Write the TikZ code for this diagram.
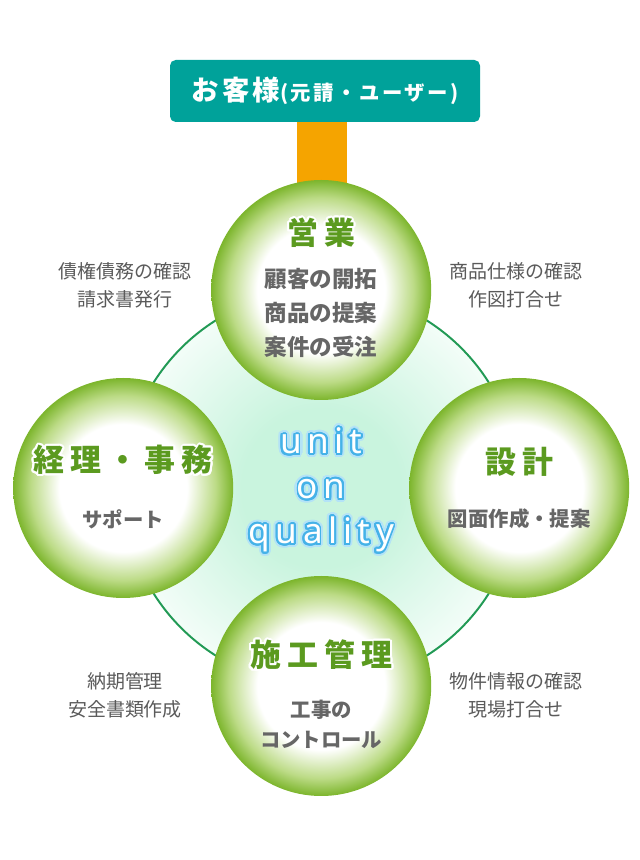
\documentclass[tikz,border=0pt]{standalone}
\usepackage{fontspec}
\usepackage{xcolor}
\usepackage[copies]{contour}
\usetikzlibrary{calc,positioning,backgrounds}
\newfontfamily\jpfont{Noto Sans CJK JP}
\newfontfamily\latinfont{Noto Sans}
\definecolor{teal}{HTML}{00A29A}
\definecolor{trunk}{HTML}{F5A400}
\definecolor{leaf}{HTML}{7CB52C}
\definecolor{leafmid}{HTML}{BCDB86}
\definecolor{leafdark}{HTML}{5B9A1F}
\definecolor{ink}{HTML}{666666}
\definecolor{muted}{HTML}{5A5A5A}
\definecolor{ringline}{HTML}{229A55}
\definecolor{mint}{HTML}{C9F4DE}
\definecolor{mintedge}{HTML}{F3FDF8}
\definecolor{glowblue}{HTML}{45B2E8}
\definecolor{glowsoft}{HTML}{B4E3F7}
% the path's bounding box maps to the central 50bp of a shading
\pgfdeclareradialshading{leafball}{\pgfpoint{0bp}{0bp}}{color(0bp)=(white); color(14.5bp)=(white); color(21bp)=(leafmid); color(25bp)=(leaf); color(50bp)=(leaf)}
\pgfdeclareradialshading{mintglow}{\pgfpoint{0bp}{0bp}}{color(0bp)=(mint); color(10bp)=(mint); color(25bp)=(mintedge); color(50bp)=(mintedge)}
\contournumber{24}
\newcommand{\halo}[1]{{\contourlength{1.4pt}\contour{white}{#1}}}
\newcommand{\mottoglow}[1]{\rlap{\contourlength{2.8pt}\color{glowsoft}\contour{glowsoft}{#1}}{\contourlength{1.3pt}\contour{glowblue}{#1}}}

\begin{document}
\begin{tikzpicture}[
  font=\jpfont,
  ring/.style={draw=ringline,line width=1.4pt,shading=mintglow},
  ball/.style={circle,minimum size=5.5cm,inner sep=0pt,shading=leafball},
  head/.style={font=\jpfont\bfseries\fontsize{22}{26}\selectfont\addfontfeature{LetterSpace=20},text=leafdark},
  body/.style={font=\jpfont\bfseries\fontsize{14.5}{21.3}\selectfont,text=ink,align=center},
  note/.style={font=\jpfont\fontsize{13.5}{19.8}\selectfont,text=muted,align=center},
  client/.style={fill=teal,rounded corners=4pt,minimum width=7.75cm,minimum height=1.55cm,
                 text=white,font=\jpfont\bfseries},
  motto/.style={font=\latinfont\fontsize{25}{32}\selectfont\addfontfeature{LetterSpace=16},
                text=white,align=center}
]
\useasboundingbox (0,0) rectangle (16,21.5);

% Ring
\coordinate (hub) at (8.03,9.3);
\path[ring] (hub) circle (4.95cm);

% Client on top
\node[client] (client) at (8.125,19.225)
  {{\fontsize{19.5}{20}\selectfont\addfontfeature{LetterSpace=12}お客様}{\fontsize{14.5}{16}\selectfont\addfontfeature{LetterSpace=12}(元請・ユーザー)}};

% Four departments
\node[ball] (sales) at ($(hub)+(0,4.95)$) {};
\node[ball] (design) at ($(hub)+(4.95,0)$) {};
\node[ball] (site) at ($(hub)+(0,-4.95)$) {};
\node[ball] (office) at ($(hub)+(-4.95,0)$) {};

\begin{scope}[on background layer]
  \fill[trunk] ($(client.south)+(-0.7,0)$) rectangle ($(sales.north)+(0.65,-0.6)$);
\end{scope}

\node[head] (salesHead) at ($(sales)+(0,1.4)$) {\halo{営業}};
\node[body,font=\jpfont\bfseries\fontsize{16}{24.4}\selectfont] (salesBody) at ($(sales)+(0,-0.575)$)
  {顧客の開拓\\商品の提案\\案件の受注};

\node[head] (designHead) at ($(design)+(0,0.625)$) {\halo{設計}};
\node[body] (designBody) at ($(design)+(0,-0.775)$) {図面作成・提案};

\node[head] (siteHead) at ($(site)+(0,0.75)$) {\halo{施工管理}};
\node[body] (siteBody) at ($(site)+(0,-0.95)$) {工事の\\コントロール};

\node[head] (officeHead) at ($(office)+(0,0.675)$) {\halo{経理・事務}};
\node[body] (officeBody) at ($(office)+(0,-0.775)$) {サポート};

% Notes between the circles
\node[note] (noteTL) at (3.125,14.375) {債権債務の確認\\請求書発行};
\node[note] (noteTR) at (12.9,14.375) {商品仕様の確認\\作図打合せ};
\node[note] (noteBL) at (3.125,4.125) {納期管理\\安全書類作成};
\node[note] (noteBR) at (12.9,4.125) {物件情報の確認\\現場打合せ};

% Motto in the middle
\node[motto] (motto) at ($(hub)+(0,-0.1)$)
  {\mottoglow{unit}\\\mottoglow{on}\\\mottoglow{quality}};

\end{tikzpicture}
\end{document}
